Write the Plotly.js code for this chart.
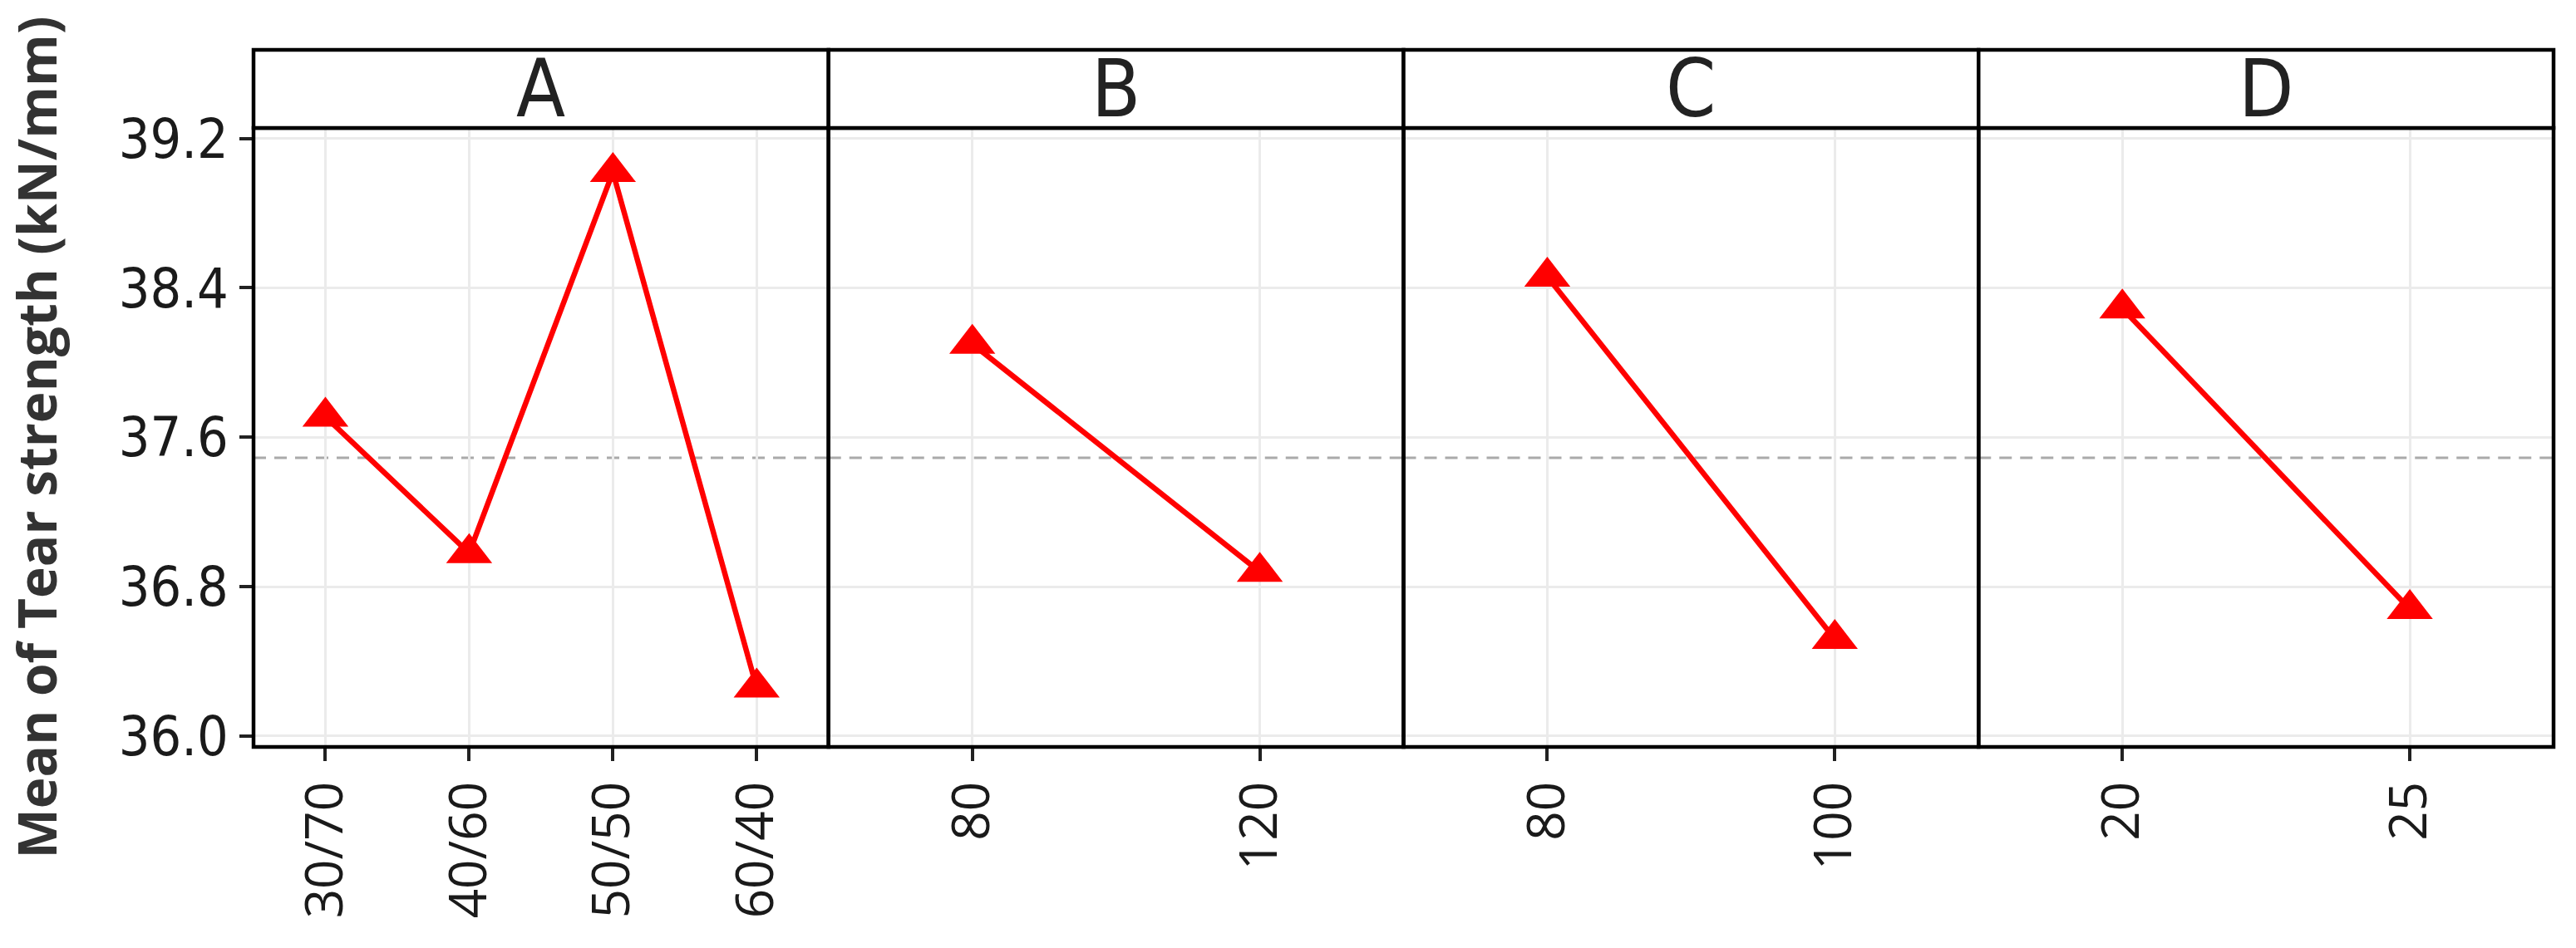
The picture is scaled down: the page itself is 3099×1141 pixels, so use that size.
<!DOCTYPE html>
<html>
<head>
<meta charset="utf-8">
<script src="https://cdn.plot.ly/plotly-3.0.1.min.js"></script>
<style>
  html, body { margin: 0; padding: 0; background: #ffffff; }
  #chart { width: 3099px; height: 1141px; }
</style>
</head>
<body>
<div id="chart"></div>
<script>
// ---- Data ----
const factors = ['A', 'B', 'C', 'D'];
const levelsA = ['30/70', '40/60', '50/50', '60/40'];
const meansA  = [37.71, 36.98, 39.02, 36.26];
const levelsB = ['80', '120'];
const meansB  = [38.10, 36.88];
const levelsC = ['80', '100'];
const meansC  = [38.46, 36.52];
const levelsD = ['20', '25'];
const meansD  = [38.29, 36.68];
const grandMean = 37.49;
const yTickVals = [36.0, 36.8, 37.6, 38.4, 39.2];
const yTitle = 'Mean of Tear strength (kN/mm)';

const levels = [levelsA, levelsB, levelsC, levelsD];
const means  = [meansA, meansB, meansC, meansD];

// ---- Styles ----
const red = '#FF0000';
const gridColor = '#EBEBEB';
const tickFont = { family: 'Open Sans, sans-serif', size: 62, color: '#1a1a1a' };
const yTickFont = { family: 'Liberation Sans Narrow, DejaVu Sans Condensed, Open Sans, sans-serif', size: 66, color: '#1a1a1a' };

const traces = [];
const layout = {
  width: 3099,
  height: 1141,
  margin: { l: 305, r: 27, t: 154, b: 242 },
  paper_bgcolor: '#ffffff',
  plot_bgcolor: '#ffffff',
  showlegend: false,
  shapes: [],
  annotations: []
};

const n = factors.length;
const stripH = 94 / 745;

factors.forEach((f, i) => {
  const xa = i === 0 ? 'x' : 'x' + (i + 1);
  const xaKey = i === 0 ? 'xaxis' : 'xaxis' + (i + 1);
  traces.push({
    type: 'scatter',
    mode: 'lines+markers',
    x: levels[i],
    y: means[i],
    xaxis: xa,
    yaxis: 'y',
    line: { color: red, width: 6.5 },
    marker: { symbol: 'triangle-up', size: 48, color: red, line: { width: 0 } },
    hoverinfo: 'x+y'
  });
  layout[xaKey] = {
    type: 'category',
    domain: [i / n, (i + 1) / n],
    anchor: 'y',
    range: [-0.5, levels[i].length - 0.5],
    showgrid: true,
    gridcolor: gridColor,
    gridwidth: 3,
    zeroline: false,
    showline: false,
    ticks: 'outside',
    ticklen: 16,
    tickwidth: 4,
    tickcolor: '#222222',
    tickangle: -90,
    tickfont: tickFont,
    fixedrange: true
  };
  // dashed grand-mean reference line
  layout.shapes.push({
    type: 'line', layer: 'below',
    xref: xa + ' domain', x0: 0, x1: 1,
    yref: 'y', y0: grandMean, y1: grandMean,
    line: { color: '#AAAAAA', width: 3, dash: '15px,10px' }
  });
  // panel border
  layout.shapes.push({
    type: 'rect', layer: 'above',
    xref: 'paper', yref: 'paper',
    x0: i / n, x1: (i + 1) / n, y0: 0, y1: 1,
    line: { color: '#000000', width: 4.5 },
    fillcolor: 'rgba(0,0,0,0)'
  });
  // strip
  layout.shapes.push({
    type: 'rect', layer: 'above',
    xref: 'paper', yref: 'paper',
    x0: i / n, x1: (i + 1) / n, y0: 1, y1: 1 + stripH,
    line: { color: '#000000', width: 4.5 },
    fillcolor: '#ffffff'
  });
  layout.annotations.push({
    xref: 'paper', yref: 'paper',
    x: (i + 0.5) / n, y: 1 + stripH / 2,
    xanchor: 'center', yanchor: 'middle',
    text: f, showarrow: false,
    font: { family: 'Liberation Sans Narrow, DejaVu Sans Condensed, Open Sans, sans-serif', size: 96, color: '#222222' }
  });
});

layout.yaxis = {
  anchor: 'x',
  range: [35.942, 39.256],
  tickvals: yTickVals,
  ticktext: yTickVals.map(v => v.toFixed(1)),
  showgrid: true,
  gridcolor: gridColor,
  gridwidth: 3,
  zeroline: false,
  showline: false,
  ticks: 'outside',
  ticklen: 16,
  tickwidth: 4,
  tickcolor: '#222222',
  tickfont: yTickFont,
  title: {
    text: yTitle,
    standoff: 54,
    font: { family: 'Open Sans, sans-serif', size: 64, weight: 'bold', color: '#333333' }
  },
  automargin: false,
  fixedrange: true
};

Plotly.newPlot('chart', traces, layout, { displayModeBar: false, staticPlot: true });
</script>
</body>
</html>
